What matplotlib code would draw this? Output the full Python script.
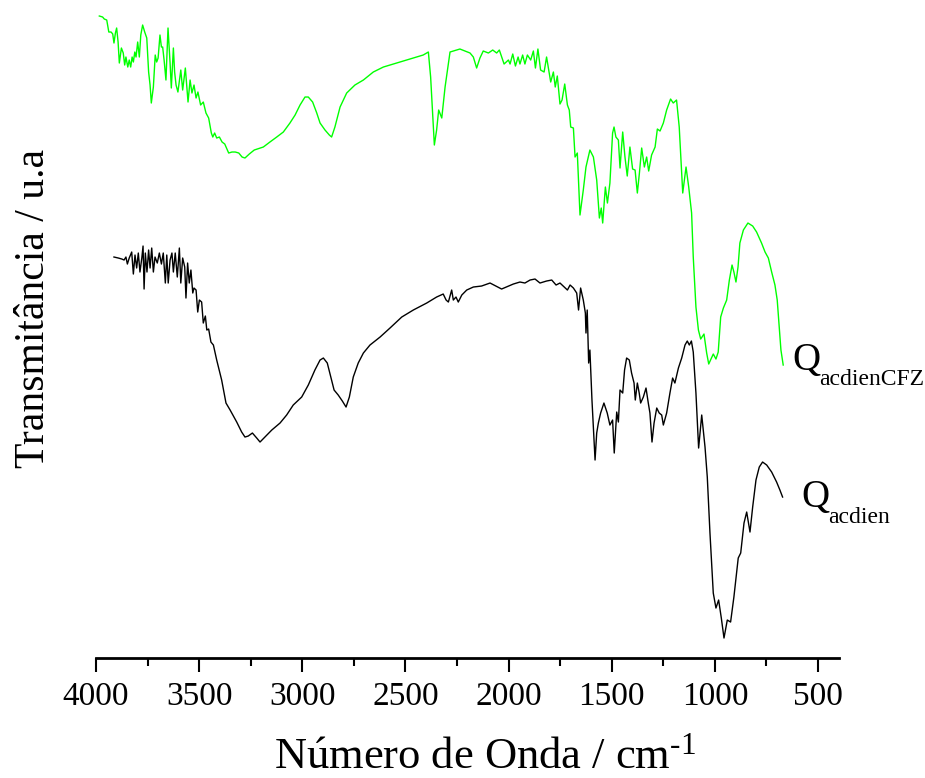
import matplotlib.pyplot as plt
from matplotlib.ticker import MultipleLocator

plt.rcParams['font.family'] = ['Liberation Serif', 'DejaVu Serif']
plt.rcParams['mathtext.fontset'] = 'custom'
plt.rcParams['mathtext.rm'] = 'Liberation Serif'
plt.rcParams['mathtext.it'] = 'Liberation Serif:italic'

# Espectro FTIR de Q_acdienCFZ (cm-1, transmitância em u.a.)
onda_cfz = [
    3984, 3968, 3960, 3948, 3938, 3927, 3919, 3913, 3906, 3900,
    3893, 3887, 3877, 3868, 3861, 3855, 3846, 3839, 3832, 3825,
    3819, 3812, 3806, 3798, 3790, 3783, 3774, 3764, 3754, 3745,
    3738, 3732, 3722, 3713, 3706, 3699, 3690, 3683, 3677, 3670,
    3661, 3651, 3641, 3635, 3625, 3619, 3612, 3603, 3589, 3580,
    3567, 3554, 3544, 3535, 3525, 3515, 3506, 3493, 3480, 3467,
    3454, 3441, 3434, 3425, 3415, 3402, 3389, 3376, 3357, 3341,
    3325, 3308, 3292, 3278, 3257, 3233, 3189, 3157, 3124, 3092,
    3060, 3035, 3011, 2987, 2971, 2950, 2930, 2914, 2890, 2869,
    2858, 2842, 2817, 2785, 2745, 2704, 2656, 2607, 2543, 2478,
    2414, 2389, 2378, 2360, 2349, 2339, 2324, 2308, 2284, 2236,
    2187, 2171, 2155, 2139,
    2123, 2098, 2077, 2058, 2045, 2022, 2001, 1993, 1980, 1967,
    1954, 1945, 1932, 1921, 1909, 1893, 1880, 1870, 1858, 1845,
    1828, 1816, 1796, 1783, 1774, 1764, 1751, 1741, 1728, 1715,
    1706, 1699, 1686, 1678, 1667, 1654, 1638, 1625, 1606, 1589,
    1573, 1560, 1551, 1544, 1531, 1521, 1509, 1496, 1489, 1480,
    1468, 1460, 1447, 1436, 1425, 1412, 1399, 1387, 1376, 1366,
    1355, 1342, 1331, 1321, 1307, 1290, 1279, 1266, 1250, 1234,
    1215, 1202, 1186, 1173, 1156, 1140, 1127, 1113,
    1105, 1092, 1080, 1069, 1053, 1040, 1030, 1021, 1008, 995,
    984, 972, 959, 943, 930, 917, 908, 898, 888, 879,
    862, 840, 817, 798, 774, 757, 741, 725, 709, 698,
    688, 680, 669,
]
trans_cfz = [
    642, 641, 639, 638, 626, 626, 624, 615, 625, 630,
    616, 595, 610, 605, 593, 601, 591, 598, 591, 601,
    596, 606, 601, 616, 601, 623, 633, 626, 620, 586,
    573, 555, 571, 603, 596, 600, 623, 611, 611, 598,
    578, 630, 595, 570, 610, 586, 573, 566, 588, 568,
    590, 556, 578, 565, 573, 560, 566, 553, 556, 545,
    540, 525, 521, 525, 520, 521, 516, 514, 505, 506,
    506, 505, 501, 500, 504, 508, 511, 516, 521, 526,
    535, 543, 553, 561, 561, 556, 545, 535, 528, 523,
    521, 531, 551, 565, 573, 578, 586, 591, 595, 599,
    603, 606, 581, 513, 528, 548, 540, 571, 606, 609,
    605, 601, 590, 600,
    607, 605, 608, 605, 608, 594, 598, 594, 604, 592,
    601, 594, 603, 594, 603, 598, 607, 590, 609, 588,
    586, 601, 576, 586, 571, 582, 554, 558, 574, 553,
    548, 531, 530, 501, 505, 443, 468, 491, 508, 501,
    478, 440, 450, 435, 471, 455, 475, 525, 531, 521,
    518, 490, 526, 501, 482, 511, 489, 488, 465, 485,
    510, 491, 501, 487, 503, 511, 529, 527, 535, 548,
    559, 555, 558, 531, 465, 491, 471, 445,
    401, 351, 328, 319, 324, 305, 294, 298, 304, 299,
    306, 341, 350, 358, 378, 393, 386, 376, 391, 415,
    428, 435, 432, 426, 415, 406, 400, 386, 373, 358,
    331, 308, 293,
]

# Espectro FTIR de Q_acdien
onda_acdien = [
    3913, 3892, 3875, 3864, 3855, 3848, 3839, 3827, 3819, 3811,
    3803, 3795, 3787, 3778, 3772, 3767, 3761, 3753, 3745, 3738,
    3730, 3722, 3714, 3703, 3693, 3683, 3674, 3664, 3657, 3650,
    3641, 3632, 3625, 3616, 3606, 3596, 3589, 3580, 3570, 3564,
    3556, 3548, 3540, 3531, 3525, 3515, 3507, 3499, 3488, 3480,
    3470, 3463, 3454, 3443, 3431, 3415,
    3391, 3370, 3350, 3318, 3294, 3278, 3262, 3242, 3221, 3205,
    3181, 3148, 3108, 3076, 3044, 3003, 2971, 2939, 2914, 2898,
    2879, 2862, 2846, 2826, 2806, 2788, 2772, 2753, 2729, 2704,
    2672, 2623, 2575, 2518, 2462, 2397, 2349, 2317, 2303, 2292,
    2276, 2268, 2255, 2244, 2227, 2203, 2171, 2131, 2090,
    2034, 1977, 1945, 1921, 1896, 1872, 1848, 1816, 1791, 1770,
    1751, 1715, 1702, 1686, 1670, 1661, 1651, 1638, 1628, 1625,
    1619, 1612, 1606, 1596, 1581, 1573, 1565, 1554, 1538, 1522,
    1509, 1496, 1488, 1476, 1468, 1460, 1447, 1438, 1428, 1415,
    1404, 1392, 1386, 1376, 1367, 1360, 1347, 1334, 1323, 1315,
    1305, 1295, 1282, 1270, 1258, 1250, 1234, 1218, 1205, 1194,
    1177, 1161, 1145, 1134, 1124, 1114, 1105, 1092, 1079, 1064,
    1048, 1037, 1024, 1008, 995, 982, 969, 956, 940, 924,
    908, 887, 875, 859, 846, 830, 817, 801, 785, 769,
    749, 725, 701, 685, 672,
]
trans_acdien = [
    401, 400, 399, 398, 401, 394, 400, 406, 384, 403,
    390, 405, 386, 400, 412, 369, 405, 386, 408, 390,
    410, 386, 401, 395, 405, 394, 405, 375, 403, 375,
    398, 405, 386, 405, 381, 410, 375, 400, 391, 360,
    395, 375, 388, 365, 370, 368, 346, 358, 356, 335,
    342, 328, 329, 316, 313, 298,
    278, 255, 248, 236, 226, 221, 222, 225, 220, 216,
    221, 228, 235, 243, 253, 261, 273, 288, 298, 300,
    295, 281, 268, 263, 257, 251, 261, 281, 295, 305,
    313, 321, 330, 341, 348, 355, 361, 364, 358, 356,
    368, 358, 361, 356, 363, 368, 371, 372, 375,
    369, 374, 376, 375, 378, 379, 375, 377, 378, 373,
    375, 368, 373, 370, 365, 348, 370, 358, 345, 325,
    348, 295, 308, 258, 198, 225, 235, 245, 255, 245,
    233, 238, 205, 246, 236, 268, 265, 288, 300, 298,
    285, 275, 258, 275, 265, 255, 261, 270, 255, 245,
    216, 235, 250, 245, 243, 233, 245, 265, 280, 275,
    290, 300, 313, 317, 313, 317, 306, 265, 210, 243,
    211, 181, 125, 65, 50, 58, 40, 20, 38, 36,
    61, 100, 105, 135, 146, 126, 151, 178, 191, 196,
    193, 186, 176, 168, 161,
]

ticks = [4000, 3500, 3000, 2500, 2000, 1500, 1000, 500]

fig = plt.figure(figsize=(9.25, 7.78), dpi=100)
ax = fig.add_axes([0.1038, 0.1542, 0.8029, 0.8355])

ax.plot(onda_cfz, trans_cfz, color='#00ff00', lw=1.0)
ax.plot(onda_acdien, trans_acdien, color='black', lw=1.0)

ax.set_xlim(4000, 400)
ax.set_ylim(0, 650)

for lado in ['left', 'right', 'top']:
    ax.spines[lado].set_visible(False)
ax.spines['bottom'].set_linewidth(2)

ax.set_yticks([])
ax.set_xticks(ticks)
ax.xaxis.set_minor_locator(MultipleLocator(250))
ax.tick_params(axis='x', which='major', direction='out', length=10, width=1.5,
               labelsize=24, pad=7)
ax.tick_params(axis='x', which='minor', direction='out', length=6, width=1.5)

# expoente com hífen curto, como no original
ax.set_xlabel('Número de Onda / cm$^{\u2010\\mathrm{1}}$', fontsize=32)
ax.xaxis.set_label_coords(0.524, -0.122)
ax.set_ylabel('Transmitância / u.a', fontsize=30)
ax.yaxis.set_label_coords(-0.058, 0.538)

# rótulos das amostras junto ao fim de cada espectro
def rotulo(x, y, sub, dq, dsub):
    ax.annotate('Q', xy=(x, y), xytext=dq, textcoords='offset points',
                fontsize=28, ha='left', va='baseline')
    ax.annotate(sub, xy=(x, y), xytext=dsub, textcoords='offset points',
                fontsize=17, ha='left', va='baseline')

rotulo(onda_cfz[-1], trans_cfz[-1], 'acdienCFZ', (6.5, -3.6), (26, -14.4))
rotulo(onda_acdien[-1], trans_acdien[-1], 'acdien', (13.7, -7.2), (33, -18.7))

fig.savefig('out.png', dpi=100)
